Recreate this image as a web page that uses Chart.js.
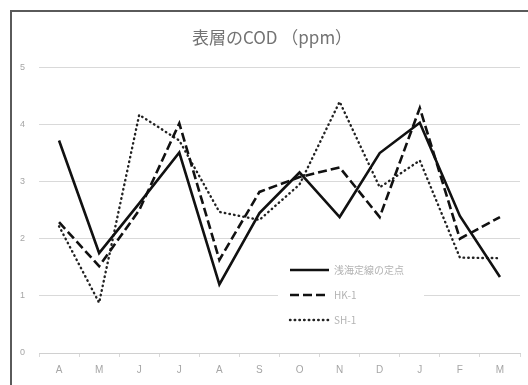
<!DOCTYPE html>
<html lang="ja">
<head>
<meta charset="utf-8">
<script src="https://cdn.jsdelivr.net/npm/chart.js@4/dist/chart.umd.min.js"></script>
<style>
  html, body { margin: 0; padding: 0; background: #fff; }
  #wrap { position: relative; width: 528px; height: 385px; }
  #frame {
    position: absolute; left: 10px; top: 10px; right: 0; bottom: 0;
    border-top: 2px solid #5a5a5a; border-left: 2px solid #5a5a5a;
    pointer-events: none;
  }
</style>
</head>
<body>
<div id="wrap">
  <canvas id="grafico" width="528" height="385"></canvas>
  <div id="frame"></div>
</div>
<script>
// meses (abril -> março)
const meses = ['A', 'M', 'J', 'J', 'A', 'S', 'O', 'N', 'D', 'J', 'F', 'M'];
const yTicks = [0, 1, 2, 3, 4, 5];

// COD superficial, ppm
const teiten = [3.72, 1.75, 2.62, 3.51, 1.2, 2.45, 3.16, 2.38, 3.5, 4.03, 2.4, 1.33];
const hk1 = [2.29, 1.52, 2.5, 4.02, 1.63, 2.82, 3.08, 3.25, 2.38, 4.29, 2.0, 2.38];
const sh1 = [2.22, 0.88, 4.17, 3.72, 2.47, 2.33, 2.95, 4.4, 2.9, 3.37, 1.67, 1.66];

const nomes = ['浅海定線の定点', 'HK-1', 'SH-1'];

const corTexto = '#a6a6a6';

// legenda desenhada dentro da área do gráfico, com fundo branco
const legendaInterna = {
	id: 'legendaInterna',
	afterLayout(chart) {
		// centraliza o título um pouco mais à direita
		if (chart.titleBlock) chart.titleBlock.left = 24;
	},
	afterDatasetsDraw(chart) {
		const ctx = chart.ctx;
		ctx.save();
		ctx.fillStyle = '#fff';
		ctx.fillRect(278, 257, 146, 76);
		chart.data.datasets.forEach((ds, i) => {
			const y = 270 + i * 25;
			ctx.beginPath();
			ctx.lineWidth = ds.borderWidth;
			ctx.strokeStyle = ds.borderColor;
			ctx.lineCap = ds.borderCapStyle || 'butt';
			ctx.setLineDash(ds.borderDash || []);
			ctx.moveTo(290, y);
			ctx.lineTo(329, y);
			ctx.stroke();
			ctx.setLineDash([]);
			ctx.fillStyle = '#b3b3b3';
			ctx.font = '10px "Noto Sans CJK JP", "Noto Sans", sans-serif';
			ctx.textBaseline = 'middle';
			ctx.fillText(ds.label, 334, y);
		});
		ctx.restore();
	}
};

const grafico = document.getElementById('grafico').getContext('2d');
const dados = {
	type: 'line',
	data: {
		labels: meses,
		datasets: [
			{
				label: nomes[0],
				data: teiten,
				borderColor: '#111',
				borderWidth: 2.6,
				pointRadius: 0,
				tension: 0
			},
			{
				label: nomes[1],
				data: hk1,
				borderColor: '#111',
				borderWidth: 2.6,
				borderDash: [9, 4],
				pointRadius: 0,
				tension: 0
			},
			{
				label: nomes[2],
				data: sh1,
				borderColor: '#222',
				borderWidth: 2.4,
				borderDash: [0.5, 4.2],
				borderCapStyle: 'round',
				pointRadius: 0,
				tension: 0
			}
		]
	},
	options: {
		responsive: false,
		animation: false,
		layout: { padding: { top: 10, right: 8, bottom: 0, left: 0 } },
		plugins: {
			legend: { display: false },
			tooltip: { enabled: false },
			title: {
				display: true,
				text: '表層のCOD （ppm）',
				color: '#737373',
				font: { family: '"Noto Sans CJK JP", sans-serif', size: 17, weight: 'normal' },
				padding: { top: 17, bottom: 20 }
			}
		},
		scales: {
			x: {
				offset: true,
				grid: {
					display: true,
					drawOnChartArea: false,
					drawTicks: true,
					tickLength: 4,
					color: '#d9d9d9',
					offset: true
				},
				border: { display: true, color: '#d0d0d0', width: 1 },
				ticks: {
					color: corTexto,
					font: { family: '"Liberation Sans", sans-serif', size: 10 },
					padding: 7,
					autoSkip: false,
					maxRotation: 0
				},
				afterFit(scale) { scale.height = 32; }
			},
			y: {
				min: 0,
				max: 5,
				afterBuildTicks(scale) { scale.ticks = yTicks.map(v => ({ value: v })); },
				grid: { color: '#d9d9d9', lineWidth: 1, drawTicks: false },
				border: { display: false },
				ticks: {
					color: corTexto,
					font: { family: '"Liberation Sans", sans-serif', size: 9 },
					padding: 14
				},
				afterFit(scale) { scale.width = 39; }
			}
		}
	},
	plugins: [legendaInterna]
};

const myChart = new Chart(grafico, dados);
</script>
</body>
</html>
